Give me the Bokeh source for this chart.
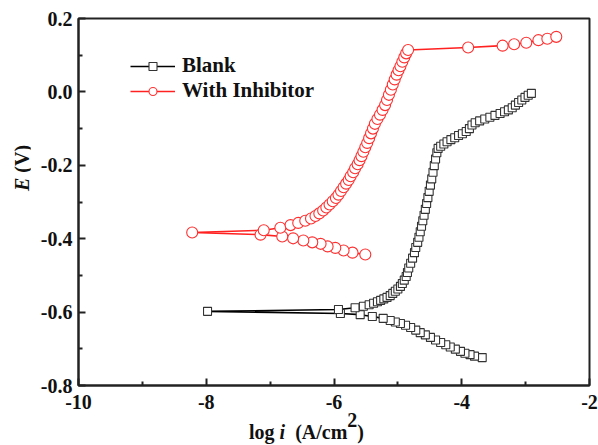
from bokeh.plotting import figure
from bokeh.layouts import row, column
from bokeh.models import Range1d, FixedTicker, PrintfTickFormatter, Legend, LegendItem, Div
from bokeh.embed import file_html
from bokeh.resources import INLINE

# ---------------- data ----------------
blank_logi = [-3.68, -3.80, -3.87, -3.95, -4.02, -4.10, -4.18, -4.25, -4.33, -4.41,
              -4.49, -4.57, -4.65, -4.72, -4.80, -4.88, -4.96, -5.04, -5.12, -5.23,
              -5.40, -5.59, -5.90,
              -7.98,
              -5.93, -5.67, -5.54, -5.45, -5.38, -5.32, -5.27, -5.22, -5.17, -5.12,
              -5.08, -5.04, -5.00, -4.96, -4.93, -4.90, -4.87, -4.85, -4.83, -4.80,
              -4.77, -4.74, -4.72, -4.69, -4.67, -4.65, -4.63, -4.61, -4.59, -4.57,
              -4.55, -4.53, -4.51, -4.49, -4.47, -4.45, -4.43, -4.41, -4.39, -4.37,
              -4.33, -4.28, -4.23, -4.17, -4.11, -4.05, -3.99, -3.93, -3.88, -3.84,
              -3.79, -3.72, -3.64, -3.56, -3.48, -3.40, -3.33, -3.27, -3.21, -3.16,
              -3.11, -3.06, -3.01, -2.96, -2.91]
blank_E = [-0.724, -0.720, -0.716, -0.712, -0.707, -0.701, -0.695, -0.689, -0.683, -0.676,
           -0.669, -0.662, -0.656, -0.649, -0.642, -0.636, -0.631, -0.627, -0.623, -0.617,
           -0.612, -0.607, -0.604,
           -0.598,
           -0.593, -0.588, -0.584, -0.580, -0.576, -0.572, -0.568, -0.564, -0.560, -0.555,
           -0.549, -0.543, -0.537, -0.530, -0.522, -0.513, -0.503, -0.492, -0.480, -0.467,
           -0.453, -0.438, -0.424, -0.410, -0.396, -0.381, -0.366, -0.351, -0.336, -0.320,
           -0.304, -0.288, -0.271, -0.254, -0.237, -0.219, -0.201, -0.183, -0.166, -0.154,
           -0.148, -0.142, -0.136, -0.130, -0.125, -0.119, -0.114, -0.108, -0.100, -0.090,
           -0.084, -0.079, -0.074, -0.069, -0.064, -0.059, -0.054, -0.049, -0.043, -0.036,
           -0.029, -0.022, -0.015, -0.009, -0.004]

inhib_logi = [-5.51, -5.71, -5.85, -5.98, -6.10, -6.21, -6.34, -6.48, -6.64, -6.81, -7.15,
              -8.22,
              -7.10, -6.84, -6.68, -6.56, -6.45, -6.36, -6.29, -6.23, -6.17, -6.12,
              -6.07, -6.02, -5.97, -5.93, -5.89, -5.85, -5.81, -5.77, -5.74, -5.70,
              -5.67, -5.63, -5.60, -5.57, -5.54, -5.51, -5.48, -5.45, -5.42, -5.39,
              -5.36, -5.32, -5.28, -5.24, -5.20, -5.17, -5.14, -5.11, -5.08, -5.05,
              -5.02, -4.99, -4.96, -4.93, -4.90, -4.87, -4.84,
              -3.90, -3.36, -3.18, -2.99, -2.80, -2.66, -2.52]
inhib_E = [-0.443, -0.438, -0.432, -0.425, -0.421, -0.414, -0.410, -0.405, -0.399, -0.394, -0.389,
           -0.383,
           -0.377, -0.370, -0.363, -0.357, -0.351, -0.345, -0.338, -0.331, -0.323, -0.315,
           -0.307, -0.298, -0.289, -0.280, -0.270, -0.260, -0.250, -0.240, -0.230, -0.219,
           -0.208, -0.197, -0.186, -0.175, -0.163, -0.151, -0.139, -0.126, -0.113, -0.100,
           -0.087, -0.074, -0.062, -0.049, -0.036, -0.022, -0.008, 0.006, 0.020, 0.034,
           0.047, 0.059, 0.070, 0.082, 0.094, 0.105, 0.114,
           0.121, 0.126, 0.130, 0.134, 0.141, 0.145, 0.150]

x_ticks = [-10, -8, -6, -4, -2]
x_minor = [-9, -7, -5, -3]
y_ticks = [-0.8, -0.6, -0.4, -0.2, 0.0, 0.2]
y_minor = [-0.7, -0.5, -0.3, -0.1, 0.1]
series_names = ["Blank", "With Inhibitor"]

FONT = "Liberation Serif"
INK = "#111111"

# ---------------- main plot ----------------
p = figure(width=568, height=415, output_backend="svg", toolbar_location=None, title=None,
           x_range=Range1d(-10, -2), y_range=Range1d(-0.8, 0.2),
           min_border_left=48, min_border_right=9, min_border_top=18, min_border_bottom=30)
p.xgrid.visible = False
p.ygrid.visible = False
p.outline_line_color = "#222222"
p.outline_line_width = 2

for ax in (p.xaxis[0], p.yaxis[0]):
    ax.axis_line_width = 2
    ax.axis_line_color = "#222222"
    ax.major_tick_in = 7
    ax.major_tick_out = 0
    ax.minor_tick_in = 4
    ax.minor_tick_out = 0
    ax.major_tick_line_width = 2
    ax.minor_tick_line_width = 2
    ax.major_tick_line_color = "#222222"
    ax.minor_tick_line_color = "#222222"
    ax.major_label_text_font = FONT
    ax.major_label_text_font_style = "bold"
    ax.major_label_text_font_size = "20px"
    ax.major_label_text_color = INK

p.xaxis.ticker = FixedTicker(ticks=x_ticks, minor_ticks=x_minor)
p.yaxis.ticker = FixedTicker(ticks=y_ticks, minor_ticks=y_minor)
p.xaxis.formatter = PrintfTickFormatter(format="%d")
p.yaxis.formatter = PrintfTickFormatter(format="%.1f")
p.xaxis.major_label_standoff = 9
p.yaxis.major_label_standoff = 6

lb = p.line(blank_logi, blank_E, line_color="black", line_width=1.6)
sb = p.scatter(blank_logi, blank_E, marker="square", size=8, fill_color="white",
               line_color="#333333", line_width=1.1)
li = p.line(inhib_logi, inhib_E, line_color="#ff2020", line_width=1.6)
si = p.scatter(inhib_logi, inhib_E, marker="circle", size=11, fill_color="white",
               line_color="#ff3030", line_width=1.1)

legend = Legend(items=[LegendItem(label=series_names[0], renderers=[lb, sb]),
                       LegendItem(label=series_names[1], renderers=[li, si])],
                location=(52, 282))
legend.border_line_alpha = 0
legend.background_fill_alpha = 0
legend.padding = 0
legend.margin = 0
legend.spacing = 0
legend.glyph_width = 45
legend.glyph_height = 20
legend.label_height = 20
legend.label_standoff = 7
legend.label_text_font = FONT
legend.label_text_font_style = "bold"
legend.label_text_font_size = "21px"
legend.label_text_color = INK
p.add_layout(legend, "center")

# ---------------- axis titles as HTML text ----------------
base_css = (f"font-family:'{FONT}'; font-weight:bold; font-size:20px; color:{INK};"
            " white-space:nowrap; line-height:20px;")

x_title_html = (f'<div style="{base_css} margin-left:219px; margin-top:7px;">'
                'log <i>i</i>&nbsp; (A/cm<span style="position:relative; top:-12px;">2</span>)'
                '</div>')
y_title_html = (f'<div style="{base_css} position:absolute; left:22px; top:168px;'
                ' transform:translate(-50%,-50%) rotate(-90deg);">'
                '<i>E</i> (V)</div>')

xt = Div(text=x_title_html, width=568, height=30, margin=0)
yt = Div(text=y_title_html, width=30, height=445, margin=0,
         styles={"position": "relative"})

layout = row(yt, column(p, xt, spacing=0), spacing=0)
open("out.html", "w").write(file_html(layout, INLINE))
